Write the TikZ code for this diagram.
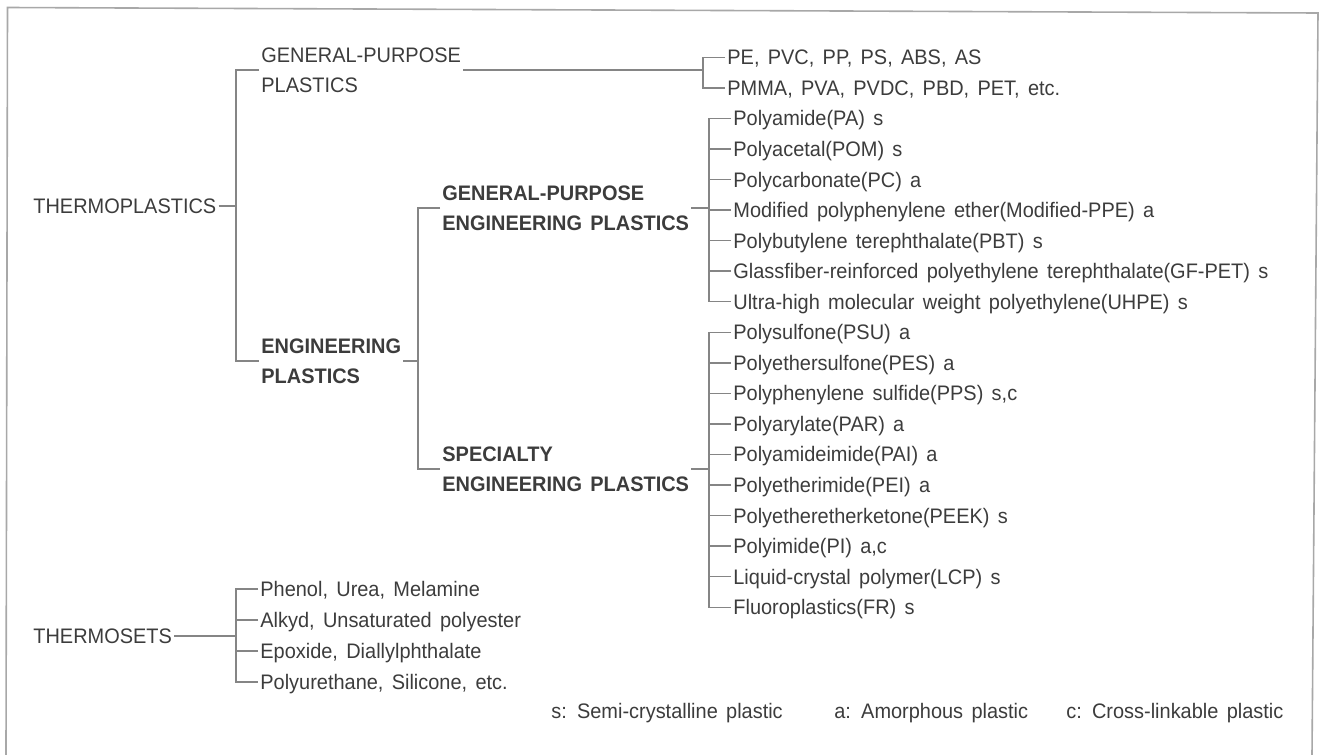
\documentclass[tikz,border=0pt]{standalone}
\usepackage{fontspec}
\setmainfont{Liberation Sans}[WordSpace=1.5, FakeStretch=0.95]
\definecolor{inkgray}{HTML}{3C3C3C}
\definecolor{linegray}{HTML}{858585}
\definecolor{framegray}{HTML}{A8A8A8}

\begin{document}
\begin{tikzpicture}[x=0.5pt, y=-0.5pt, text=inkgray,
    font=\fontsize{10.5}{15}\selectfont,
    head/.style={anchor=west, align=left, inner sep=1pt},
    bhead/.style={head, font=\fontsize{10.5}{15}\selectfont\bfseries},
    leaf/.style={anchor=west, inner sep=1pt, text height=9.5pt, text depth=2pt},
    link/.style={draw=linegray, line width=0.7pt}]
  \useasboundingbox (0,0) rectangle (1319,755);
  \draw[draw=framegray, line width=0.8pt] (6,755) -- (7.5,7.5) -- (1318,13) -- (1312,755);

  \node[head] (thermo) at (31,206) {THERMOPLASTICS};
  \node[head] (gpp) at (259,70) {GENERAL-PURPOSE\\PLASTICS};
  \node[bhead] (ep) at (259,361) {ENGINEERING\\PLASTICS};
  \node[bhead] (gpe) at (440,208) {GENERAL-PURPOSE\\ENGINEERING PLASTICS};
  \node[bhead] (spe) at (440,469) {SPECIALTY\\ENGINEERING PLASTICS};
  \node[head] (tset) at (31,636) {THERMOSETS};

  \node[leaf] (pe) at (725,57.3) {PE, PVC, PP, PS, ABS, AS};
  \node[leaf] (pmma) at (725,87.85) {PMMA, PVA, PVDC, PBD, PET, etc.};
  \node[leaf] (pa) at (731,118.4) {Polyamide(PA) s};
  \node[leaf] (pom) at (731,148.95) {Polyacetal(POM) s};
  \node[leaf] (pc) at (731,179.5) {Polycarbonate(PC) a};
  \node[leaf] (ppe) at (731,210.05) {Modified polyphenylene ether(Modified-PPE) a};
  \node[leaf] (pbt) at (731,240.6) {Polybutylene terephthalate(PBT) s};
  \node[leaf] (gfpet) at (731,271.15) {Glassfiber-reinforced polyethylene terephthalate(GF-PET) s};
  \node[leaf] (uhpe) at (731,301.7) {Ultra-high molecular weight polyethylene(UHPE) s};
  \node[leaf] (psu) at (731,332.25) {Polysulfone(PSU) a};
  \node[leaf] (pes) at (731,362.8) {Polyethersulfone(PES) a};
  \node[leaf] (pps) at (731,393.35) {Polyphenylene sulfide(PPS) s,c};
  \node[leaf] (par) at (731,423.9) {Polyarylate(PAR) a};
  \node[leaf] (pai) at (731,454.45) {Polyamideimide(PAI) a};
  \node[leaf] (pei) at (731,485) {Polyetherimide(PEI) a};
  \node[leaf] (peek) at (731,515.55) {Polyetheretherketone(PEEK) s};
  \node[leaf] (pi) at (731,546.1) {Polyimide(PI) a,c};
  \node[leaf] (lcp) at (731,576.65) {Liquid-crystal polymer(LCP) s};
  \node[leaf] (fr) at (731,607.2) {Fluoroplastics(FR) s};

  \node[leaf] (phen) at (258,589) {Phenol, Urea, Melamine};
  \node[leaf] (alk) at (258,620) {Alkyd, Unsaturated polyester};
  \node[leaf] (epo) at (258,651) {Epoxide, Diallylphthalate};
  \node[leaf] (pur) at (258,682) {Polyurethane, Silicone, etc.};

  \node[head] (keys) at (549,713) {s: Semi-crystalline plastic};
  \node[head] (keya) at (832,713) {a: Amorphous plastic};
  \node[head] (keyc) at (1064,713) {c: Cross-linkable plastic};

  \coordinate (j1) at (236,206);
  \coordinate (j2) at (703,70);
  \coordinate (j3) at (418,361);
  \coordinate (j4) at (709,208);
  \coordinate (j5) at (709,469);
  \coordinate (j6) at (236,636);

  \draw[link] (thermo.east) -- (j1);
  \draw[link] (gpp.west) -| (j1) |- (ep.west);
  \draw[link] (gpp.east) -- (j2);
  \draw[link] (pe.west) -| (j2) |- (pmma.west);
  \draw[link] (ep.east) -- (j3);
  \draw[link] (gpe.west) -| (j3) |- (spe.west);
  \draw[link] (gpe.east) -- (j4);
  \draw[link] (pa.west) -| (j4) |- (uhpe.west);
  \draw[link] (pom.west) -- (pom.west -| j4) (pc.west) -- (pc.west -| j4)
    (ppe.west) -- (ppe.west -| j4) (pbt.west) -- (pbt.west -| j4)
    (gfpet.west) -- (gfpet.west -| j4);
  \draw[link] (spe.east) -- (j5);
  \draw[link] (psu.west) -| (j5) |- (fr.west);
  \draw[link] (pes.west) -- (pes.west -| j5) (pps.west) -- (pps.west -| j5)
    (par.west) -- (par.west -| j5) (pai.west) -- (pai.west -| j5)
    (pei.west) -- (pei.west -| j5) (peek.west) -- (peek.west -| j5)
    (pi.west) -- (pi.west -| j5) (lcp.west) -- (lcp.west -| j5);
  \draw[link] (tset.east) -- (j6);
  \draw[link] (phen.west) -| (j6) |- (pur.west);
  \draw[link] (alk.west) -- (alk.west -| j6) (epo.west) -- (epo.west -| j6);
\end{tikzpicture}
\end{document}
